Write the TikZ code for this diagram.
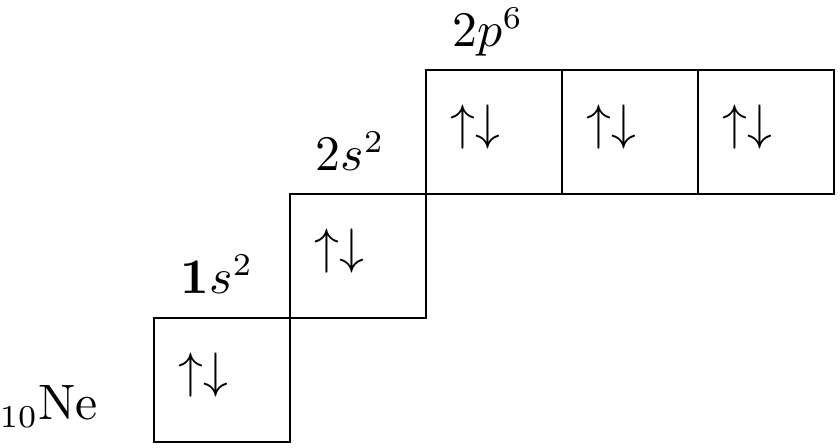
\documentclass[tikz,border=0pt]{standalone}
\usetikzlibrary{positioning}
\tikzset{
  orbital/.style={draw, line width=0.45pt, minimum width=29.92pt, minimum height=27.28pt, inner sep=0pt, outer sep=0pt},
  spins/.style={inner sep=0pt},
  sublevel/.style={anchor=base west, inner sep=0pt}
}
\begin{document}
\begin{tikzpicture}[x=0.22pt,y=0.22pt,font=\fontsize{10.5}{12.6}\selectfont]
  \useasboundingbox (0,0) rectangle (840,448);
  % cases quantiques
  \node[orbital, anchor=south west] (s1) at (154,6) {};
  \node[orbital, above right=0pt and 0pt of s1] (s2) {};
  \node[orbital, above right=0pt and 0pt of s2] (p1) {};
  \foreach \i [remember=\i as \j (initially 1)] in {2,3}
    \node[orbital, right=0pt of p\j] (p\i) {};

  % electrons
  \foreach \b in {s1,s2,p1,p2,p3}
    \node[spins] (e\b) at ([shift={(49,-57)}]\b.north west) {$\uparrow\downarrow$};

  % sous-couches
  \node[sublevel] (l1s) at ([shift={(26,24)}]s1.north west) {$\mathbf{1}s^2$};
  \node[sublevel] (l2s) at ([shift={(25,23)}]s2.north west) {$2s^2$};
  \node[sublevel] (l2p) at ([shift={(26,23)}]p1.north west) {$2p^6$};
  \node[sublevel] (ne) at (-1,28) {${}_{10}\mathrm{Ne}$};
\end{tikzpicture}
\end{document}
